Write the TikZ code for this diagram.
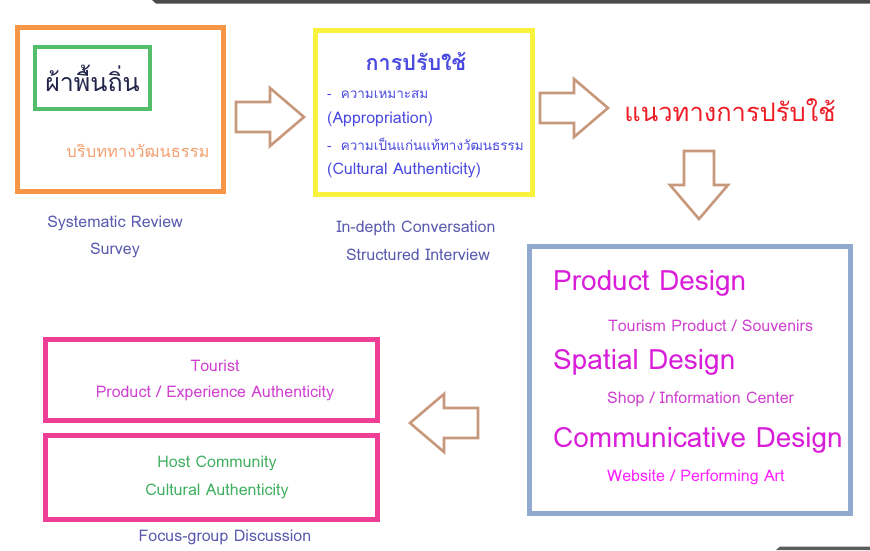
\documentclass[tikz,border=0pt]{standalone}
\usepackage{fontspec}
\newfontfamily\thai[Script=Thai]{Loma}
\setmainfont[Script=Thai]{Loma}
\definecolor{cOrange}{HTML}{F79646}
\definecolor{cGreen}{HTML}{52BE6A}
\definecolor{cYellow}{HTML}{F9F23C}
\definecolor{cBlueBox}{HTML}{91A9CF}
\definecolor{cPink}{HTML}{EE3E96}
\definecolor{cArrow}{HTML}{C8987C}
\definecolor{cSlate}{HTML}{5A5AAF}
\definecolor{cBlueTxt}{HTML}{4A4AE0}
\definecolor{cRed}{HTML}{EE1C25}
\definecolor{cOrTxt}{HTML}{F4A070}
\definecolor{cMag}{HTML}{D91ED9}
\definecolor{cMagS}{HTML}{D040D0}
\definecolor{cMagB}{HTML}{FF22FF}
\definecolor{cGrTxt}{HTML}{40B060}
\definecolor{cNavy}{HTML}{22244A}
\definecolor{cBar}{HTML}{4A4A4A}
\begin{document}
\begin{tikzpicture}[x=1pt,y=-1pt,
  frame/.style={draw, line width=5pt, inner sep=0pt},
  arrowline/.style={draw=cArrow, line width=2.6pt, line join=miter, fill=white},
  barrow/.pic={\path[arrowline] (0,-15) -- (34,-15) -- (34,-29) -- (68,0) -- (34,29) -- (34,15) -- (0,15) -- cycle;},
  small/.style={font=\fontsize{16}{18}\selectfont, inner sep=0pt},
  thsmall/.style={font=\fontsize{13.5}{16}\selectfont, inner sep=0pt},
  big/.style={font=\fontsize{28}{30}\selectfont, inner sep=0pt},
]
\useasboundingbox (0,0) rectangle (870,550);
\fill[white] (0,0) rectangle (870,550);
% screenshot bars
\fill[cBar] (152,0) -- (870,0) -- (870,3.5) -- (156,3.5) -- cycle;
\fill[cBar!90] (776,550) -- (870,550) -- (870,546.5) -- (780,546.5) -- cycle;

% boxes
\node[frame, draw=cOrange, minimum width=206pt, minimum height=164pt] (obox) at (120,109) {};
\node[frame, draw=cGreen, line width=4pt, minimum width=115pt, minimum height=62pt,
      font=\fontsize{25}{28}\selectfont, text=cNavy] (gbox) at (92.5,78) {ผ้าพื้นถิ่น};
\node[inner sep=0pt, font=\fontsize{16.5}{18}\selectfont, text=cOrTxt] (ctx) at (138,151) {บริบททางวัฒนธรรม};
\node[small, text=cSlate] (sr) at (115,223) {Systematic Review};
\node[small, text=cSlate] (sv) at (115,250) {Survey};

\node[frame, draw=cYellow, minimum width=217pt, minimum height=164pt] (ybox) at (424,112.5) {};
\node[inner sep=0pt, font=\fontsize{21.5}{24}\selectfont\bfseries, text=cBlueTxt] (apt) at (416,62) {การปรับใช้};
\node[thsmall, anchor=west, text=cBlueTxt] (l1) at (327,95) {-\ \ ความเหมาะสม};
\node[small, anchor=west, text=cBlueTxt] (l2) at (327,119) {(Appropriation)};
\node[thsmall, anchor=west, text=cBlueTxt] (l3) at (327,144) {-\ \ ความเป็นแก่นแท้ทางวัฒนธรรม};
\node[small, anchor=west, text=cBlueTxt] (l4) at (327,170) {(Cultural Authenticity)};
\node[small, text=cSlate] (idc) at (416,228) {In-depth Conversation};
\node[small, text=cSlate] (sti) at (418,255) {Structured Interview};

\node[inner sep=0pt, font=\fontsize{25.5}{28}\selectfont, text=cRed] (guide) at (730,110) {แนวทางการปรับใช้};

\node[frame, draw=cBlueBox, minimum width=321pt, minimum height=267pt] (bbox) at (690,380) {};
\node[big, anchor=west, text=cMag] (pd) at (553,283) {Product Design};
\node[small, anchor=west, text=cMagS] (tp) at (608,326) {Tourism Product / Souvenirs};
\node[big, anchor=west, text=cMag] (sd) at (553,362) {Spatial Design};
\node[small, anchor=west, text=cMagS] (sh) at (607,399) {Shop / Information Center};
\node[big, anchor=west, text=cMag] (cd) at (553,440) {Communicative Design};
\node[small, anchor=west, text=cMagB] (wp) at (607,477) {Website / Performing Art};

\node[frame, draw=cPink, minimum width=332pt, minimum height=81pt] (p1) at (211.5,380) {};
\node[small, text=cMagS] (tou) at (215,366) {Tourist};
\node[small, text=cMagS] (pea) at (215,393) {Product / Experience Authenticity};
\node[frame, draw=cPink, minimum width=332pt, minimum height=84pt] (p2) at (211.5,477.5) {};
\node[small, text=cGrTxt] (hc) at (217,463) {Host Community};
\node[small, text=cGrTxt] (ca) at (217,491) {Cultural Authenticity};
\node[small, text=cSlate] (fg) at (225,537) {Focus-group Discussion};

% block arrows
\pic at (236,117) {barrow};
\pic at (540,108) {barrow};
\pic[rotate=-90] at (699,151) {barrow};
\pic[rotate=180] at (478,423) {barrow};
\end{tikzpicture}
\end{document}
